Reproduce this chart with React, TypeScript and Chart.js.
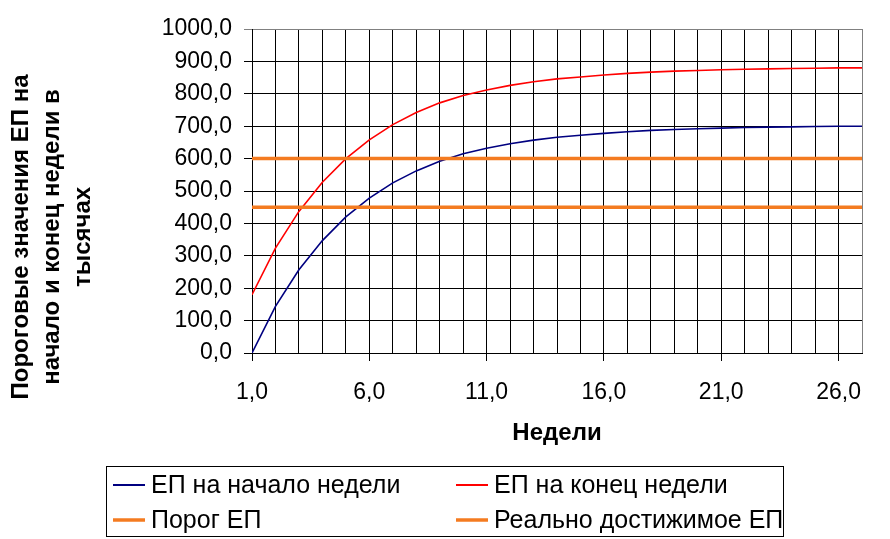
import { useEffect, useRef } from "react";
import { Chart, registerables } from "chart.js";

Chart.register(...registerables);

// weeks 1..27 on the category axis
const weeks = [
  1, 2, 3, 4, 5, 6, 7, 8, 9, 10, 11, 12, 13, 14, 15, 16, 17, 18, 19, 20, 21,
  22, 23, 24, 25, 26, 27,
];

// EP at week start / end (thousands)
const epStart = [
  0, 144, 257, 347, 420, 478, 525, 562, 592, 615, 632, 646, 657, 666, 672,
  678, 683, 687, 690, 692, 694, 696, 697, 698, 699, 700, 700,
];
const epEnd = [
  180, 324, 437, 527, 600, 658, 705, 742, 772, 795, 812, 826, 837, 846, 852,
  858, 863, 867, 870, 872, 874, 876, 877, 878, 879, 880, 880,
];

const porogLevel = 600;
const realLevel = 450;

const seriesLabels = [
  "ЕП на начало недели",
  "ЕП на конец недели",
  "Порог ЕП",
  "Реально достижимое ЕП",
];

const yTitleLines = [
  "Пороговые значения ЕП на",
  "начало и конец недели в",
  "тысячах",
];
const xTitle = "Недели";

const FONT = "'Liberation Sans', Arial, sans-serif";
const ORANGE = "#F47B20";
const comma = (v: number) => v.toFixed(1).replace(".", ",");

const extrasPlugin = {
  id: "extras",
  afterDraw(chart: any) {
    const ctx = chart.ctx as CanvasRenderingContext2D;
    const area = chart.chartArea;
    ctx.save();
    ctx.fillStyle = "#000";

    // y title, three rotated lines
    ctx.font = `bold 24px ${FONT}`;
    ctx.textAlign = "center";
    ctx.textBaseline = "middle";
    const colX = [21, 52, 83];
    yTitleLines.forEach((line, i) => {
      ctx.save();
      ctx.translate(colX[i], 237);
      ctx.rotate(-Math.PI / 2);
      ctx.fillText(line, 0, 0);
      ctx.restore();
    });

    // x title
    ctx.fillText(xTitle, (area.left + area.right) / 2, 433);

    // legend box
    ctx.strokeStyle = "#000";
    ctx.lineWidth = 1;
    ctx.strokeRect(106.5, 466.5, 677, 70);
    ctx.font = `25px ${FONT}`;
    ctx.textAlign = "left";
    const cols = [113, 456];
    const rows = [485, 520];
    chart.data.datasets.forEach((ds: any, i: number) => {
      const x = cols[i % 2];
      const y = rows[Math.floor(i / 2)];
      ctx.strokeStyle = ds.borderColor;
      ctx.lineWidth = ds.borderWidth > 2 ? 3.5 : 2;
      ctx.beginPath();
      ctx.moveTo(x, y);
      ctx.lineTo(x + 32, y);
      ctx.stroke();
      ctx.fillStyle = "#000";
      ctx.fillText(ds.label, x + 38, y + 1);
    });
    ctx.restore();
  },
};

export default function App() {
  const canvasRef = useRef<HTMLCanvasElement>(null);
  const chartRef = useRef<Chart | null>(null);

  useEffect(() => {
    if (!canvasRef.current) return;
    if (chartRef.current) chartRef.current.destroy();

    const toPoints = (vals: number[]) =>
      weeks.map((w, i) => ({ x: w, y: vals[i] }));
    const flat = (level: number) => weeks.map((w) => ({ x: w, y: level }));

    chartRef.current = new Chart(canvasRef.current, {
      type: "line",
      data: {
        datasets: [
          {
            label: seriesLabels[0],
            data: toPoints(epStart),
            borderColor: "#000080",
            borderWidth: 1.6,
            pointRadius: 0,
            order: 2,
          },
          {
            label: seriesLabels[1],
            data: toPoints(epEnd),
            borderColor: "#FF0000",
            borderWidth: 1.6,
            pointRadius: 0,
            order: 2,
          },
          {
            label: seriesLabels[2],
            data: flat(porogLevel),
            borderColor: ORANGE,
            borderWidth: 3.5,
            pointRadius: 0,
            order: 1,
          },
          {
            label: seriesLabels[3],
            data: flat(realLevel),
            borderColor: ORANGE,
            borderWidth: 3.5,
            pointRadius: 0,
            order: 1,
          },
        ],
      },
      options: {
        animation: false,
        responsive: false,
        layout: { padding: { left: 0, right: 28, top: 29, bottom: 0 } },
        plugins: {
          legend: { display: false },
          tooltip: { enabled: false },
        },
        scales: {
          x: {
            type: "linear",
            min: 1,
            max: 27,
            afterFit: (s: any) => {
              s.height = 186;
            },
            ticks: {
              stepSize: 1,
              autoSkip: false,
              maxRotation: 0,
              padding: 18,
              color: "#000",
              font: { family: FONT, size: 23 },
              callback: (v: any) =>
                (Number(v) - 1) % 5 === 0 ? comma(Number(v)) : "",
            },
            grid: {
              color: (c: any) => (c.tick && c.tick.value === 27 ? "#808080" : "#000"),
              tickColor: (c: any) =>
                c.tick && (c.tick.value - 1) % 5 === 0 ? "#000" : "rgba(0,0,0,0)",
              tickLength: 8,
              lineWidth: 1,
            },
            border: { color: "#000", width: 1 },
          },
          y: {
            min: 0,
            max: 1000,
            afterFit: (s: any) => {
              s.width = 252;
            },
            ticks: {
              stepSize: 100,
              padding: 12,
              color: "#000",
              font: { family: FONT, size: 23 },
              callback: (v: any) => comma(Number(v)),
            },
            grid: {
              color: (c: any) => (c.tick && c.tick.value === 1000 ? "#808080" : "#000"),
              tickLength: 8,
              lineWidth: 1,
            },
            border: { color: "#000", width: 1 },
          },
        },
      },
      plugins: [extrasPlugin],
    });

    return () => {
      if (chartRef.current) {
        chartRef.current.destroy();
        chartRef.current = null;
      }
    };
  }, []);

  return (
    <div
      style={{
        position: "absolute",
        left: 0,
        top: 0,
        width: 890,
        height: 539,
        background: "#fff",
      }}
    >
      <canvas ref={canvasRef} width={890} height={539}></canvas>
    </div>
  );
}
